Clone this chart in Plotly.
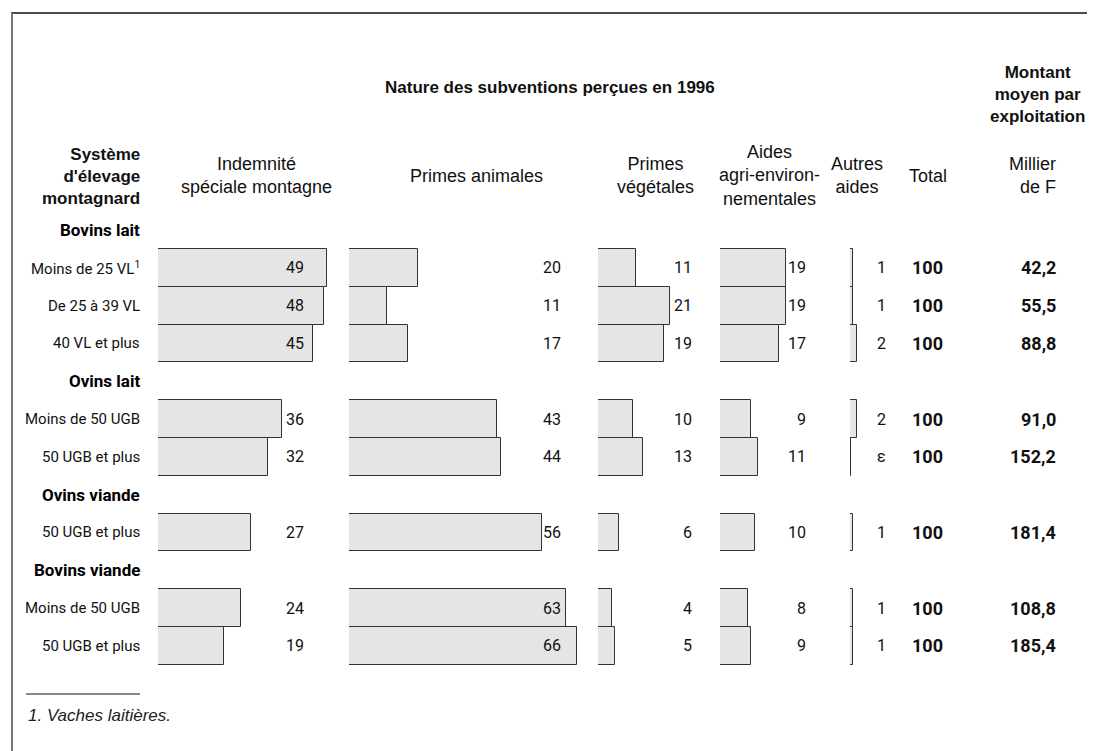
import plotly.graph_objects as go

# Data (percentages of subsidies, 1996)
groups = ["Bovins lait", "Ovins lait", "Ovins viande", "Bovins viande"]
row_labels = [
    ["Moins de 25 VL<sup>1</sup>", "De 25 à 39 VL", "40 VL et plus"],
    ["Moins de 50 UGB", "50 UGB et plus"],
    ["50 UGB et plus"],
    ["Moins de 50 UGB", "50 UGB et plus"],
]
ism = [49, 48, 45, 36, 32, 27, 24, 19]
primes_animales = [20, 11, 17, 43, 44, 56, 63, 66]
primes_vegetales = [11, 21, 19, 10, 13, 6, 4, 5]
aides_agri_env = [19, 19, 17, 9, 11, 10, 8, 9]
autres_aides = [1, 1, 2, 2, 0.3, 1, 1, 1]
autres_aides_txt = ["1", "1", "2", "2", "ε", "1", "1", "1"]
total = [100, 100, 100, 100, 100, 100, 100, 100]
montant = ["42,2", "55,5", "88,8", "91,0", "152,2", "181,4", "108,8", "185,4"]

# the page body adds an 8px margin, so the figure is drawn 8px in and down
OFF = 8
W, H = 1095 - OFF, 751 - OFF
PX_PER_UNIT = 3.45
COND = "Roboto, Liberation Sans, sans-serif"
SANS = "Liberation Sans, Arial, Helvetica, sans-serif"
FILL = "#e5e5e5"
EDGE = "#333333"


def px(x):
    return (x - OFF) / W


def py(y):
    return 1 - (y - OFF) / H


# slot positions: one slot per group header, then one per row
header_slots = []
row_slots = []
flat_labels = []
slot = 0
for g, labels in zip(groups, row_labels):
    header_slots.append(slot)
    slot += 1
    for lab in labels:
        row_slots.append(slot)
        flat_labels.append(lab)
        slot += 1

# (values, texts, bar start px, label right edge px, range max)
panels = [
    (ism, [str(v) for v in ism], 158, 306, 50),
    (primes_animales, [str(v) for v in primes_animales], 349, 563, 68),
    (primes_vegetales, [str(v) for v in primes_vegetales], 598, 694, 22),
    (aides_agri_env, [str(v) for v in aides_agri_env], 720, 808, 20),
    (autres_aides, autres_aides_txt, 850, 888, 3),
]

fig = go.Figure()
annotations = []
layout_axes = {}

for i, (vals, texts, x0, lab_x, rmax) in enumerate(panels):
    ax = "x" if i == 0 else f"x{i + 1}"
    key = "xaxis" if i == 0 else f"xaxis{i + 1}"
    fig.add_trace(go.Bar(
        x=vals, y=row_slots, orientation="h", width=1,
        xaxis=ax, yaxis="y",
        marker=dict(color=FILL, line=dict(color=EDGE, width=1)),
        showlegend=False, hoverinfo="skip", cliponaxis=False,
    ))
    layout_axes[key] = dict(
        domain=[px(x0), px(x0 + rmax * PX_PER_UNIT)], range=[0, rmax],
        visible=False, anchor="y", fixedrange=True,
    )
    for s, t in zip(row_slots, texts):
        annotations.append(dict(
            x=px(lab_x), y=s, xref="paper", yref="y", text=t,
            xanchor="right", yanchor="middle", showarrow=False,
            font=dict(family=COND, size=16, color="#111"),
        ))

# total and amount columns
for s, t, m in zip(row_slots, total, montant):
    annotations.append(dict(
        x=px(927), y=s, xref="paper", yref="y", text=f"<b>{t}</b>",
        xanchor="center", yanchor="middle", showarrow=False,
        font=dict(family=COND, size=18, color="#111"),
    ))
    annotations.append(dict(
        x=px(1058), y=s, xref="paper", yref="y", text=f"<b>{m}</b>",
        xanchor="right", yanchor="middle", showarrow=False,
        font=dict(family=COND, size=18, color="#111"),
    ))

# row labels and group headers
for s, lab in zip(row_slots, flat_labels):
    annotations.append(dict(
        x=px(142), y=s, xref="paper", yref="y", text=lab,
        xanchor="right", yanchor="middle", showarrow=False,
        font=dict(family=COND, size=15, color="#111"),
    ))
for s, g in zip(header_slots, groups):
    annotations.append(dict(
        x=px(142), y=s, xref="paper", yref="y", text=f"<b>{g}</b>",
        xanchor="right", yanchor="middle", showarrow=False,
        font=dict(family=COND, size=17, color="#000"),
    ))

# column headers
headers = [
    ("Indemnité<br>spéciale montagne", 256, 175),
    ("Primes animales", 476, 176),
    ("Primes<br>végétales", 655, 175),
    ("Aides<br>agri-environ-<br>nementales", 769, 175),
    ("Autres<br>aides", 857, 175),
    ("Total", 928, 176),
]
for t, x, y in headers:
    annotations.append(dict(
        x=px(x), y=py(y), xref="paper", yref="paper", text=t, align="center",
        xanchor="center", yanchor="middle", showarrow=False,
        font=dict(family=SANS, size=18, color="#111"),
    ))
annotations.append(dict(
    x=px(1058), y=py(175), xref="paper", yref="paper", text="Millier<br>de F",
    align="right", xanchor="right", yanchor="middle", showarrow=False,
    font=dict(family=SANS, size=18, color="#111"),
))
annotations.append(dict(
    x=px(142), y=py(176), xref="paper", yref="paper",
    text="<b>Système<br>d'élevage<br>montagnard</b>", align="right",
    xanchor="right", yanchor="middle", showarrow=False,
    font=dict(family=SANS, size=17, color="#111"),
))
annotations.append(dict(
    x=px(550), y=py(87), xref="paper", yref="paper",
    text="<b>Nature des subventions perçues en 1996</b>",
    xanchor="center", yanchor="middle", showarrow=False,
    font=dict(family=SANS, size=17, color="#111"),
))
annotations.append(dict(
    x=px(1037), y=py(95), xref="paper", yref="paper",
    text="<b>Montant<br>moyen par<br>exploitation</b>", align="center",
    xanchor="center", yanchor="middle", showarrow=False,
    font=dict(family=SANS, size=17, color="#111"),
))
# footnote
annotations.append(dict(
    x=px(26), y=py(715), xref="paper", yref="paper",
    text="<i>1. Vaches laitières.</i>",
    xanchor="left", yanchor="middle", showarrow=False,
    font=dict(family=SANS, size=17, color="#222"),
))

shapes = [
    dict(type="line", xref="paper", yref="paper", x0=px(11), x1=1, y0=py(13), y1=py(13),
         line=dict(color="#111", width=1.5)),
    dict(type="line", xref="paper", yref="paper", x0=px(12), x1=px(12), y0=py(13), y1=0,
         line=dict(color="#777", width=2)),
    dict(type="line", xref="paper", yref="paper", x0=px(26), x1=px(140), y0=py(694), y1=py(694),
         line=dict(color="#111", width=1)),
]

# y axis: slot 0 at 230 px on the page, 37.8 px per slot
slot_px = 37.8
top_val = -(230 - OFF) / slot_px
fig.update_layout(
    width=W, height=H,
    margin=dict(l=0, r=0, t=0, b=0),
    paper_bgcolor="white", plot_bgcolor="white",
    yaxis=dict(range=[top_val + H / slot_px, top_val], visible=False, fixedrange=True),
    annotations=annotations, shapes=shapes,
    bargap=0, showlegend=False,
    **layout_axes,
)

fig.write_html("out.html")
